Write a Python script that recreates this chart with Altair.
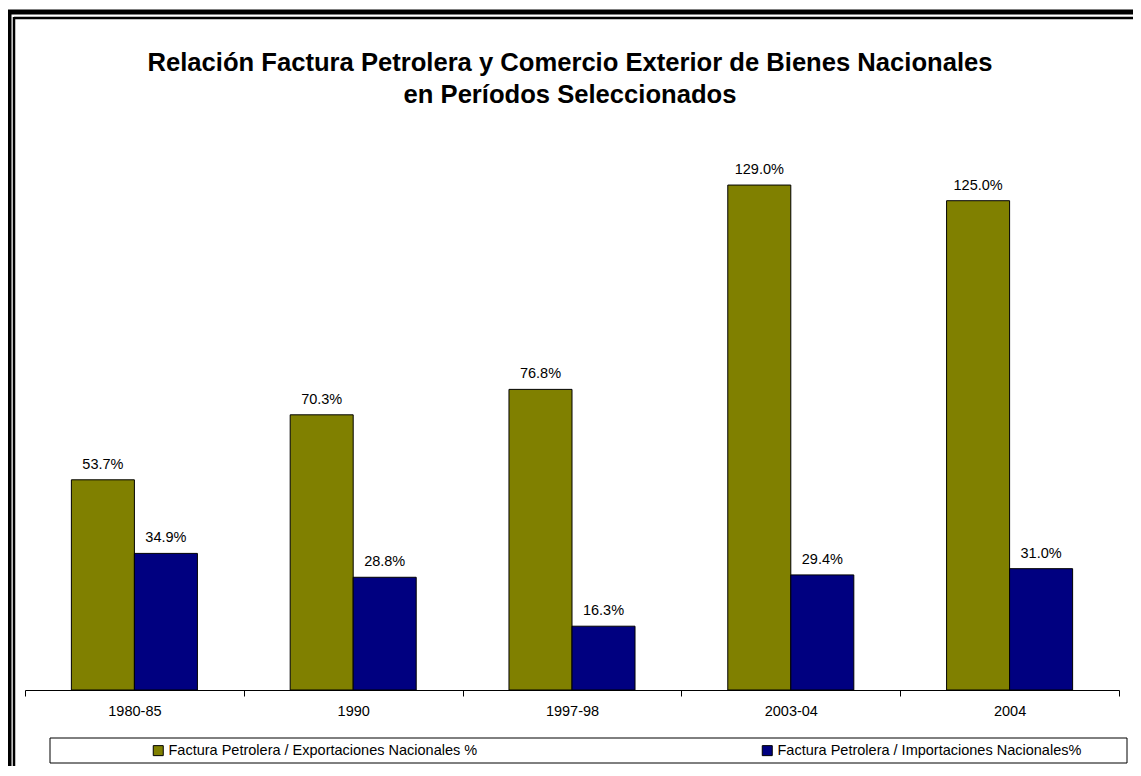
import altair as alt
import pandas as pd

periodos = ["1980-85", "1990", "1997-98", "2003-04", "2004"]
series = ["Factura Petrolera / Exportaciones Nacionales %",
          "Factura Petrolera / Importaciones Nacionales%"]
exportaciones = [53.7, 70.3, 76.8, 129.0, 125.0]
importaciones = [34.9, 28.8, 16.3, 29.4, 31.0]
colores = ["#808000", "#000080"]

rows = []
for p, e, i in zip(periodos, exportaciones, importaciones):
    rows.append({"periodo": p, "serie": series[0], "valor": e, "etiqueta": f"{e:.1f}%"})
    rows.append({"periodo": p, "serie": series[1], "valor": i, "etiqueta": f"{i:.1f}%"})
df = pd.DataFrame(rows)

FONT = "Liberation Sans"
W, H = 1094, 548

x_enc = alt.X("periodo:N", sort=periodos, title=None,
              scale=alt.Scale(paddingInner=0, paddingOuter=0),
              axis=alt.Axis(labelAngle=0, tickBand="extent", tickSize=6,
                            labelPadding=8, labelFontSize=14.5, labelColor="black",
                            labelFont=FONT, domainColor="black", tickColor="black",
                            domainWidth=1, tickWidth=1, grid=False))
xoff = alt.XOffset("serie:N", sort=series,
                   scale=alt.Scale(domain=series, paddingInner=0, paddingOuter=0.736))
y_enc = alt.Y("valor:Q", scale=alt.Scale(domain=[0, 140]), axis=None)
color = alt.Color("serie:N", scale=alt.Scale(domain=series, range=colores),
                  legend=alt.Legend(title=None, orient="none", direction="horizontal",
                                    legendX=126, legendY=601, symbolType="square",
                                    symbolSize=100, symbolStrokeColor="black",
                                    symbolStrokeWidth=1, labelFontSize=14.5,
                                    labelFont=FONT, labelColor="black", labelLimit=0,
                                    labelOffset=3, columnPadding=282, padding=0))

base = alt.Chart(df)
bars = base.mark_bar(stroke="black", strokeWidth=1).encode(
    x=x_enc, xOffset=xoff, y=y_enc, color=color)
labels = base.mark_text(baseline="bottom", dy=-8, fontSize=14.5, font=FONT,
                        color="black").encode(
    x=alt.X("periodo:N", sort=periodos), xOffset=alt.XOffset("serie:N", sort=series),
    y="valor:Q", text="etiqueta:N")

one = alt.Chart(pd.DataFrame({"a": [0]}))
legend_box = one.mark_rect(filled=False, stroke="black", strokeWidth=1).encode(
    x=alt.value(25), x2=alt.value(1102), y=alt.value(596), y2=alt.value(621))
b1 = one.mark_rule(color="black", strokeWidth=5).encode(
    x=alt.value(-18), x2=alt.value(1200), y=alt.value(-130))
b2 = one.mark_rule(color="black", strokeWidth=5).encode(
    x=alt.value(-16), y=alt.value(-132), y2=alt.value(700))
b3 = one.mark_rule(color="black", strokeWidth=2.5).encode(
    x=alt.value(-11), x2=alt.value(1200), y=alt.value(-124))
b4 = one.mark_rule(color="black", strokeWidth=2.5).encode(
    x=alt.value(-11), y=alt.value(-125), y2=alt.value(700))
grafico = one.mark_text(text="Gráfico No. 4", font="Liberation Serif", fontSize=21,
                        fontWeight="bold", baseline="alphabetic", color="black").encode(
    x=alt.value(545), y=alt.value(-137))
titulo = one.mark_text(text=["Relación Factura Petrolera y Comercio Exterior de Bienes Nacionales",
                             "en Períodos Seleccionados"],
                       font=FONT, fontSize=25.6, fontWeight="bold", lineHeight=32,
                       baseline="alphabetic", color="black").encode(
    x=alt.value(545), y=alt.value(-71))

chart = alt.layer(bars, labels, legend_box, b1, b2, b3, b4, grafico, titulo).properties(
    width=W, height=H,
    autosize=alt.AutoSizeParams(type="none"),
    padding={"left": 17, "top": 134, "right": 14, "bottom": 76},
    background="white",
).configure_view(stroke=None, strokeWidth=0)

chart.save("out.html", embed_options={"renderer": "svg", "actions": False})
